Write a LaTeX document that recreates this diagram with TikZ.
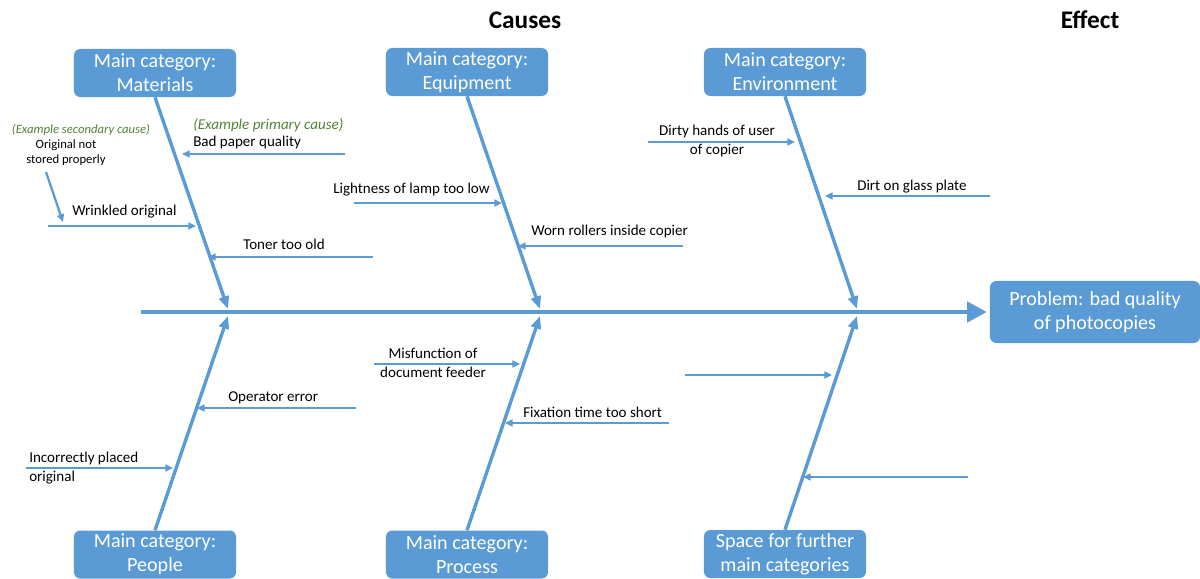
\documentclass[tikz,border=0pt]{standalone}
\usepackage{fontspec}
\setmainfont{Carlito}
\usetikzlibrary{arrows.meta}
\definecolor{ob}{HTML}{5B9BD5}
\definecolor{eg}{HTML}{548235}
\begin{document}
\begin{tikzpicture}[x=0.025cm,y=-0.025cm,
  catbox/.style={fill=ob, rounded corners=4.5pt, minimum width=4.05cm, minimum height=1.2cm,
    inner sep=0pt, text=white, align=center, font=\fontsize{14.3}{17}\selectfont},
  spine/.style={draw=ob, line width=3.5pt, -{Triangle[length=14pt,width=14pt]}},
  bone/.style={draw=ob, line width=2.4pt, -{Triangle[length=9pt,width=7pt]}},
  cause/.style={draw=ob, line width=1.6pt, -{Triangle[length=5.5pt,width=5pt]}},
  lbl/.style={font=\fontsize{10.7}{13.5}\selectfont, inner sep=0pt},
  sml/.style={font=\fontsize{9}{10.6}\selectfont, inner sep=0pt, align=center},
  ttl/.style={font=\fontsize{18}{20}\selectfont\bfseries, inner sep=0pt}]
\useasboundingbox (0,0) rectangle (1200,578);

% titles
\node[ttl] (causes) at (525,20) {Causes};
\node[ttl] (effect) at (1090,20) {Effect};

% category boxes
\node[catbox] (mat) at (155,73) {Main category:\\Materials};
\node[catbox] (equ) at (467,72) {Main category:\\Equipment};
\node[catbox] (env) at (785,72) {Main category:\\Environment};
\node[catbox] (peo) at (155,554.5) {Main category:\\People};
\node[catbox] (pro) at (467,554.5) {Main category:\\Process};
\node[catbox] (spa) at (785,554) {Space for further\\main categories};
\node[catbox, minimum width=5.25cm, minimum height=1.55cm] (prob) at (1095,312) {Problem: bad quality\\of photocopies};

% spine
\coordinate (s0) at (141,312);
\draw[spine, shorten >=2pt] (s0) -- (prob.west);

% bones
\coordinate (bm) at (228,309);
\coordinate (be) at (540,309);
\coordinate (bv) at (857,309);
\coordinate (bp) at (228,316);
\coordinate (br) at (540,316);
\coordinate (bs) at (857,316);
\draw[bone] (mat.south) -- (bm);
\draw[bone] (equ.south) -- (be);
\draw[bone] (env.south) -- (bv);
\draw[bone] (peo.north) -- (bp);
\draw[bone] (pro.north) -- (br);
\draw[bone] (spa.north) -- (bs);

% Materials causes
\node[lbl, text=eg, font=\fontsize{10.7}{13.5}\selectfont\itshape, anchor=west] (prim) at (193,125) {(Example primary cause)};
\node[lbl, anchor=west] (bpq) at (193,142) {Bad paper quality};
\coordinate (c1s) at (345,154); \coordinate (c1e) at (182,154);
\draw[cause] (c1s) -- (c1e);
\node[sml, text=eg, font=\fontsize{9}{10.6}\selectfont\itshape] (sec) at (81,130) {(Example secondary cause)};
\node[sml] (ons) at (66,153) {Original not\\stored properly};
\coordinate (c2s) at (46,172); \coordinate (c2e) at (63,222);
\draw[cause] (c2s) -- (c2e);
\node[lbl, anchor=west] (wri) at (72,212) {Wrinkled original};
\coordinate (c3s) at (48,226); \coordinate (c3e) at (196,226);
\draw[cause] (c3s) -- (c3e);
\node[lbl, anchor=west] (ton) at (243,244) {Toner too old};
\coordinate (c4s) at (373,257); \coordinate (c4e) at (208,257);
\draw[cause] (c4s) -- (c4e);

% Equipment causes
\node[lbl, anchor=west] (lig) at (333,190) {Lightness of lamp too low};
\coordinate (c5s) at (354,203); \coordinate (c5e) at (502,203);
\draw[cause] (c5s) -- (c5e);
\node[lbl, anchor=west] (wor) at (531,231) {Worn rollers inside copier};
\coordinate (c6s) at (683,246); \coordinate (c6e) at (518,246);
\draw[cause] (c6s) -- (c6e);

% Environment causes
\node[lbl, align=center] (dir) at (717,141) {Dirty hands of user\\of copier};
\coordinate (c7s) at (648,142); \coordinate (c7e) at (795,142);
\draw[cause] (c7s) -- (c7e);
\node[lbl, anchor=west] (gla) at (857,187) {Dirt on glass plate};
\coordinate (c8s) at (990,196); \coordinate (c8e) at (825,196);
\draw[cause] (c8s) -- (c8e);

% People causes
\node[lbl, anchor=west] (ope) at (228,398) {Operator error};
\coordinate (c9s) at (356,408); \coordinate (c9e) at (197,408);
\draw[cause] (c9s) -- (c9e);
\node[lbl, align=left, anchor=west] (inc) at (29,468) {Incorrectly placed\\original};
\coordinate (c10s) at (26,468); \coordinate (c10e) at (173,468);
\draw[cause] (c10s) -- (c10e);

% Process causes
\node[lbl, align=center] (mis) at (433,363) {Misfunction of\\document feeder};
\coordinate (c11s) at (374,364); \coordinate (c11e) at (520,364);
\draw[cause] (c11s) -- (c11e);
\node[lbl, anchor=west] (fix) at (523,412) {Fixation time too short};
\coordinate (c12s) at (669,423); \coordinate (c12e) at (505,423);
\draw[cause] (c12s) -- (c12e);

% empty slots
\coordinate (c13s) at (685,375); \coordinate (c13e) at (832,375);
\draw[cause] (c13s) -- (c13e);
\coordinate (c14s) at (968,477); \coordinate (c14e) at (803,477);
\draw[cause] (c14s) -- (c14e);
\end{tikzpicture}
\end{document}
